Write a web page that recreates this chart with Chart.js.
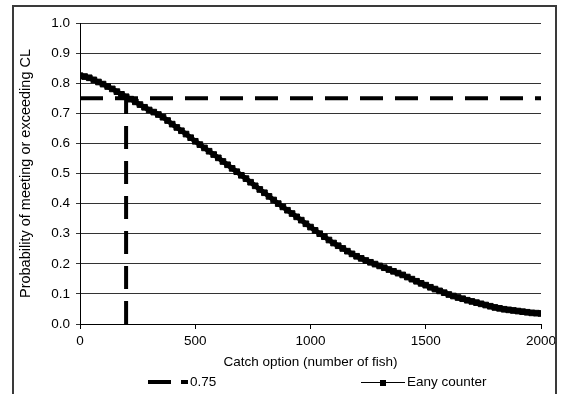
<!DOCTYPE html>
<html>
<head>
<meta charset="utf-8">
<script src="https://cdn.jsdelivr.net/npm/chart.js@4/dist/chart.umd.min.js"></script>
<style>
html,body{margin:0;padding:0;background:#fff;}
#wrap{position:relative;width:561px;height:394px;overflow:hidden;}
#frame{position:absolute;left:12px;top:5px;width:545px;height:420px;border:2px solid #3a3a3a;box-sizing:border-box;pointer-events:none;}
#c{position:absolute;left:0;top:0;}
</style>
</head>
<body>
<div id="wrap">
<canvas id="c" width="561" height="394"></canvas>
<div id="frame"></div>
</div>
<script>
// Catch option (number of fish)
const catchOption = [
  0,20,40,60,80,100,120,140,160,180,
  200,220,240,260,280,300,320,340,360,380,
  400,420,440,460,480,500,520,540,560,580,
  600,620,640,660,680,700,720,740,760,780,
  800,820,840,860,880,900,920,940,960,980,
  1000,1020,1040,1060,1080,1100,1120,1140,1160,1180,
  1200,1220,1240,1260,1280,1300,1320,1340,1360,1380,
  1400,1420,1440,1460,1480,1500,1520,1540,1560,1580,
  1600,1620,1640,1660,1680,1700,1720,1740,1760,1780,
  1800,1820,1840,1860,1880,1900,1920,1940,1960,1980,
  2000
];
// Probability of meeting or exceeding CL – "Eany counter"
const eanyCounter = [
  0.825,0.822,0.818,0.811,0.804,0.797,0.789,0.781,0.772,0.763,
  0.755,0.747,0.738,0.729,0.720,0.711,0.704,0.696,0.687,0.676,
  0.664,0.653,0.642,0.631,0.619,0.607,0.596,0.585,0.574,0.563,
  0.552,0.540,0.529,0.517,0.506,0.494,0.483,0.471,0.459,0.447,
  0.436,0.424,0.412,0.400,0.389,0.378,0.367,0.356,0.345,0.333,
  0.322,0.311,0.300,0.290,0.279,0.269,0.260,0.251,0.242,0.233,
  0.225,0.218,0.211,0.205,0.199,0.193,0.187,0.181,0.175,0.169,
  0.163,0.156,0.149,0.142,0.135,0.129,0.122,0.116,0.110,0.104,
  0.098,0.093,0.088,0.084,0.079,0.075,0.071,0.067,0.063,0.059,
  0.055,0.052,0.049,0.047,0.045,0.043,0.041,0.039,0.037,0.036,
  0.035
];
// Threshold line "0.75": horizontal at 0.75 and vertical drop at the catch where it is met
const thresholdX = [0, 2000, null, 200, 200];
const thresholdY = [0.75, 0.75, null, 0, 0.75];
// Tick settings
const xTickStep = 500;
const yTickStep = 0.1;

const seriesLabels = ['0.75', 'Eany counter'];
const xTitle = 'Catch option (number of fish)';
const yTitle = 'Probability of meeting or exceeding CL';

const FONT = '"Liberation Sans", Arial, sans-serif';

const thresholdData = thresholdX.map((x, i) => ({x: x === null ? NaN : x, y: thresholdY[i]}));
const curveData = catchOption.map((x, i) => ({x: x, y: eanyCounter[i]}));

const excelLegend = {
  id: 'excelLegend',
  afterDraw(chart) {
    const ctx = chart.ctx;
    const y = 382;
    ctx.save();
    ctx.strokeStyle = '#000';
    ctx.lineWidth = 4;
    ctx.setLineDash([23, 10]);
    ctx.beginPath();
    ctx.moveTo(148, y);
    ctx.lineTo(188, y);
    ctx.stroke();
    ctx.setLineDash([]);
    ctx.fillStyle = '#000';
    ctx.font = '13.5px ' + FONT;
    ctx.textBaseline = 'middle';
    ctx.textAlign = 'left';
    ctx.fillText(chart.data.datasets[0].label, 190, y);
    ctx.lineWidth = 1;
    ctx.beginPath();
    ctx.moveTo(361, y + 0.5);
    ctx.lineTo(405, y + 0.5);
    ctx.stroke();
    ctx.fillRect(380, y - 2, 6, 6);
    ctx.fillText(chart.data.datasets[1].label, 407, y);
    ctx.restore();
  }
};

new Chart(document.getElementById('c'), {
  type: 'line',
  data: {
    datasets: [
      {
        label: seriesLabels[0],
        data: thresholdData,
        borderColor: '#000',
        borderWidth: 4,
        borderDash: [23, 12],
        pointRadius: 0,
        spanGaps: false,
        fill: false,
        tension: 0
      },
      {
        label: seriesLabels[1],
        data: curveData,
        borderColor: '#000',
        backgroundColor: '#000',
        borderWidth: 5,
        pointStyle: 'rect',
        pointRadius: 4,
        pointBorderWidth: 1,
        pointBackgroundColor: '#000',
        pointBorderColor: '#000',
        fill: false,
        tension: 0
      }
    ]
  },
  options: {
    responsive: false,
    animation: false,
    devicePixelRatio: 1,
    layout: { padding: { left: 13, right: 20, top: 23, bottom: 20 } },
    plugins: {
      legend: { display: false },
      tooltip: { enabled: false }
    },
    scales: {
      x: {
        type: 'linear',
        min: 0,
        max: 2000,
        ticks: { stepSize: xTickStep, color: '#000', font: { family: FONT, size: 13.5 }, padding: 4, maxRotation: 0,
                 callback: v => String(v) },
        grid: { drawOnChartArea: false, drawTicks: true, tickLength: 5, color: '#000' },
        border: { display: true, color: '#000', width: 1 },
        title: { display: true, text: xTitle, color: '#000', font: { family: FONT, size: 13.5 }, padding: { top: 2, bottom: 4 } },
        afterFit(scale) { scale.height = 50; }
      },
      y: {
        min: 0,
        max: 1,
        ticks: { stepSize: yTickStep, color: '#000', font: { family: FONT, size: 13.5 }, padding: 6,
                 callback: v => Number(v).toFixed(1) },
        grid: { drawOnChartArea: true, drawTicks: true, tickLength: 4, color: '#333' },
        border: { display: true, color: '#000', width: 1 },
        title: { display: true, text: yTitle, color: '#000', font: { family: FONT, size: 14.5 }, padding: { top: 4, bottom: 4 } },
        afterFit(scale) { scale.width = 67; }
      }
    }
  },
  plugins: [excelLegend]
});
</script>
</body>
</html>
